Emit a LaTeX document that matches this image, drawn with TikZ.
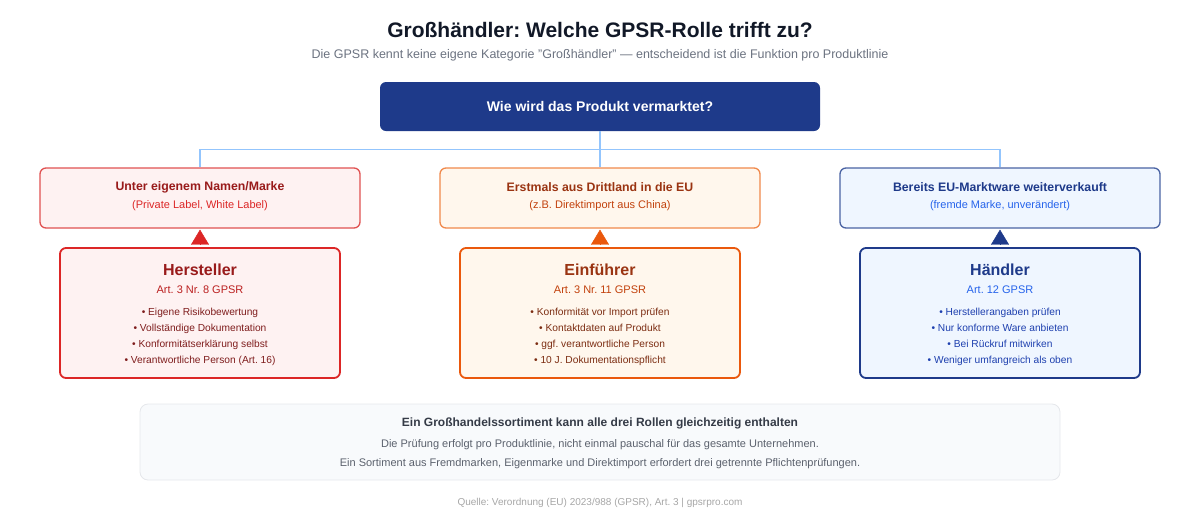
\documentclass[tikz,border=0pt]{standalone}
\usepackage{fontspec}
\setmainfont{Liberation Sans}
\usetikzlibrary{positioning,arrows.meta}
\frenchspacing

\definecolor{kopfblau}{HTML}{1E3A8A}
\definecolor{linienblau}{HTML}{93C5FD}
\definecolor{titelgrau}{HTML}{111827}
\definecolor{untergrau}{HTML}{6B7280}
% rot: Hersteller
\definecolor{rotrand}{HTML}{E05252}
\definecolor{rotstark}{HTML}{DC2626}
\definecolor{rotfill}{HTML}{FEF2F2}
\definecolor{rotdunkel}{HTML}{991B1B}
\definecolor{rottext}{HTML}{7F1D1D}
% orange: Einfuehrer
\definecolor{orrand}{HTML}{F0894B}
\definecolor{orstark}{HTML}{EA580C}
\definecolor{orfill}{HTML}{FFF7ED}
\definecolor{ordunkel}{HTML}{9A3412}
\definecolor{ormittel}{HTML}{C2410C}
\definecolor{ortext}{HTML}{7C2D12}
% blau: Haendler
\definecolor{blrand}{HTML}{4A63A3}
\definecolor{blfill}{HTML}{EFF6FF}
\definecolor{blmittel}{HTML}{2563EB}
\definecolor{bltext}{HTML}{1E40AF}
\definecolor{hinweisfill}{HTML}{F8FAFC}
\definecolor{hinweisrand}{HTML}{E5E7EB}

\begin{document}
\begin{tikzpicture}[x=1pt,y=-1pt,
	fall/.style={draw=#1,rounded corners=6pt,line width=1.3pt,minimum width=320pt,minimum height=60pt},
	rolle/.style={draw=#1,rounded corners=6pt,line width=1.8pt,minimum width=280pt,minimum height=130pt},
	linie/.style={draw=linienblau,line width=1.5pt},
	spitze/.style={draw=#1,line width=0.4pt,shorten <=4pt,shorten >=1pt,-{Triangle[width=18pt,length=15pt,fill=#1]}},
	fallkopf/.style={font=\fontsize{12.3}{14}\selectfont\bfseries},
	fallsub/.style={font=\fontsize{11}{13}\selectfont},
	rollekopf/.style={font=\fontsize{16}{19}\selectfont\bfseries},
	rolleart/.style={font=\fontsize{11}{13}\selectfont},
	pflichten/.style={font=\fontsize{10.2}{16}\selectfont,align=center}]
	\useasboundingbox (0,0) rectangle (1200,520);

	\node[text=titelgrau,font=\fontsize{21}{25}\selectfont\bfseries] (titel) at (600,30) {Großhändler: Welche GPSR-Rolle trifft zu?};
	\node[text=untergrau,font=\fontsize{12.5}{15}\selectfont] (untertitel) at (600,55) {Die GPSR kennt keine eigene Kategorie \char34 Großhändler\char34{} — entscheidend ist die Funktion pro Produktlinie};

	\node[fill=kopfblau,rounded corners=6pt,minimum width=440pt,minimum height=49pt,text=white,font=\fontsize{14}{16}\selectfont\bfseries] (frage) at (600,106.5) {Wie wird das Produkt vermarktet?};

	% Fallunterscheidung
	\node[fall=rotrand,fill=rotfill] (fallA) at (200,198) {};
	\node[fall=orrand,fill=orfill] (fallB) at (600,198) {};
	\node[fall=blrand,fill=blfill] (fallC) at (1000,198) {};
	\node[fallkopf,text=rotdunkel] (fallAkopf) at (200,187) {Unter eigenem Namen/Marke};
	\node[fallsub,text=rotstark] (fallAsub) at (200,206) {(Private Label, White Label)};
	\node[fallkopf,text=ordunkel] (fallBkopf) at (600,187) {Erstmals aus Drittland in die EU};
	\node[fallsub,text=ormittel] (fallBsub) at (600,206) {(z.B. Direktimport aus China)};
	\node[fallkopf,text=kopfblau] (fallCkopf) at (1000,187) {Bereits EU-Marktware weiterverkauft};
	\node[fallsub,text=blmittel] (fallCsub) at (1000,206) {(fremde Marke, unverändert)};

	\draw[linie] (frage.south) |- ([yshift=18pt]fallA.north) -- (fallA.north);
	\draw[linie] (frage.south) |- ([yshift=18pt]fallC.north) -- (fallC.north);
	\draw[linie] (frage.south) -- (fallB.north);

	% Rollen
	\node[rolle=rotstark,fill=rotfill] (herst) at (200,313) {};
	\node[rolle=orstark,fill=orfill] (einf) at (600,313) {};
	\node[rolle=kopfblau,fill=blfill] (haendl) at (1000,313) {};

	\node[rollekopf,text=rotdunkel] (herstkopf) at (200,270) {Hersteller};
	\node[rolleart,text=rotstark!85!black] (herstart) at (200,290) {Art. 3 Nr. 8 GPSR};
	\node[pflichten,text=rottext,anchor=north] (herstpfl) at (200,305) {• Eigene Risikobewertung\\• Vollständige Dokumentation\\• Konformitätserklärung selbst\\• Verantwortliche Person (Art. 16)};

	\node[rollekopf,text=ordunkel] (einfkopf) at (600,270) {Einführer};
	\node[rolleart,text=ormittel] (einfart) at (600,290) {Art. 3 Nr. 11 GPSR};
	\node[pflichten,text=ortext,anchor=north] (einfpfl) at (600,305) {• Konformität vor Import prüfen\\• Kontaktdaten auf Produkt\\• ggf. verantwortliche Person\\• 10 J. Dokumentationspflicht};

	\node[rollekopf,text=kopfblau] (haendlkopf) at (1000,270) {Händler};
	\node[rolleart,text=blmittel] (haendlart) at (1000,290) {Art. 12 GPSR};
	\node[pflichten,text=bltext,anchor=north] (haendlpfl) at (1000,305) {• Herstellerangaben prüfen\\• Nur konforme Ware anbieten\\• Bei Rückruf mitwirken\\• Weniger umfangreich als oben};

	\draw[spitze=rotstark] (herst) -- (fallA);
	\draw[spitze=orstark] (einf) -- (fallB);
	\draw[spitze=kopfblau] (haendl) -- (fallC);

	% Hinweis unten
	\node[draw=hinweisrand,fill=hinweisfill,rounded corners=8pt,line width=0.8pt,minimum width=920pt,minimum height=76pt] (hinweis) at (600,442) {};
	\node[text=titelgrau!85,font=\fontsize{12}{14}\selectfont\bfseries] (hinweiskopf) at (600,423) {Ein Großhandelssortiment kann alle drei Rollen gleichzeitig enthalten};
	\node[text=untergrau!85!black,font=\fontsize{11}{19}\selectfont,align=center,anchor=north] (hinweistext) at (600,435.5) {Die Prüfung erfolgt pro Produktlinie, nicht einmal pauschal für das gesamte Unternehmen.\\Ein Sortiment aus Fremdmarken, Eigenmarke und Direktimport erfordert drei getrennte Pflichtenprüfungen.};

	\node[text=gray!70,font=\fontsize{10}{12}\selectfont] (quelle) at (600,503) {Quelle: Verordnung (EU) 2023/988 (GPSR), Art. 3 | gpsrpro.com};
\end{tikzpicture}
\end{document}
